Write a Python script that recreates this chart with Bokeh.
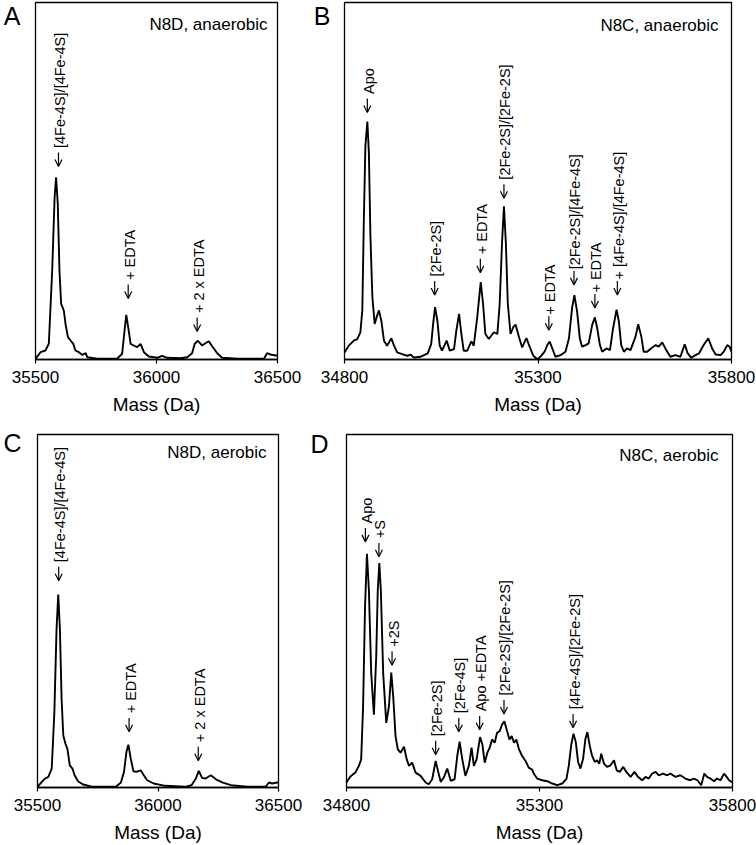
import math
from bokeh.plotting import figure
from bokeh.models import (Range1d, FixedTicker, Label, ColumnDataSource, LinearAxis,
                          Arrow, OpenHead)
from bokeh.layouts import column, row
from bokeh.embed import file_html
from bokeh.resources import INLINE
from bokeh.core.properties import value

FONT = "Liberation Sans"

# ---------------- Panel A : N8D, anaerobic ----------------
a_mass = [35500, 35521, 35541, 35555, 35569, 35579, 35585, 35592, 35599, 35606,
          35617, 35624, 35634, 35645, 35656, 35665, 35679, 35693, 35707, 35714,
          35755, 35837, 35858, 35868, 35875, 35883, 35893, 35906, 35920, 35934,
          35948, 35968, 36003, 36023, 36044, 36099, 36127, 36147, 36158, 36171,
          36189, 36202, 36216, 36230, 36251, 36271, 36333, 36444, 36457, 36471,
          36492, 36500]
a_int = [0.7, 7.3, 9, 15.7, 89, 162.3, 182.3, 155.7, 89, 55.7,
         49, 35.7, 22.3, 19, 15.7, 9, 7.3, 4.7, 6.3, 2.3,
         0.7, 0.7, 5.7, 29, 44.7, 32.3, 15.7, 14, 12.3, 15.7,
         7.3, 3, 1.7, 3.7, 1.7, 1.3, 2.3, 6.3, 15.7, 18.7,
         14, 16.3, 18.3, 13.3, 6.3, 1.7, 0.7, 0.7, 6.3, 5,
         4, 4]
a_ann_mass = [35595, 35883, 36168]
a_ann_y = [193, 61, 28]
a_ann_text = ["← [4Fe-4S]/[4Fe-4S]", "← + EDTA", "← + 2 x EDTA"]

# ---------------- Panel B : N8C, anaerobic ----------------
b_mass = [34800, 34811, 34824, 34833, 34841, 34846, 34850, 34854, 34859, 34863,
          34867, 34872, 34878, 34883, 34889, 34895, 34902, 34910, 34921, 34928,
          34936, 34949, 34962, 34971, 34979, 34996, 35015, 35024, 35029, 35034,
          35040, 35046, 35052, 35064, 35072, 35083, 35089, 35096, 35102, 35108,
          35117, 35128, 35134, 35143, 35152, 35158, 35164, 35173, 35186, 35195,
          35201, 35207, 35212, 35217, 35222, 35229, 35236, 35242, 35251, 35259,
          35270, 35279, 35288, 35298, 35306, 35317, 35324, 35330, 35337, 35345,
          35358, 35371, 35380, 35388, 35394, 35401, 35408, 35414, 35423, 35431,
          35440, 35447, 35453, 35460, 35466, 35477, 35486, 35494, 35503, 35509,
          35515, 35522, 35530, 35539, 35552, 35559, 35567, 35573, 35582, 35592,
          35604, 35612, 35621, 35629, 35642, 35655, 35668, 35679, 35687, 35696,
          35707, 35716, 35728, 35740, 35750, 35759, 35772, 35780, 35789, 35795,
          35800]
b_int = [7, 13.7, 18.7, 20.3, 27, 48.7, 138.7, 212, 236, 205,
         122, 62, 35.3, 42, 48.7, 38.7, 18.7, 13.7, 21, 13.7,
         7, 5.3, 3.7, 4.7, 2, 2.7, 6, 15.3, 35.3, 52,
         38.7, 13.7, 8.7, 18.7, 8.7, 10.3, 28.7, 45.3, 25.3, 8.7,
         8.7, 18, 13.7, 42, 76.7, 55.3, 25.3, 20.3, 27, 25.3,
         55.3, 115.3, 152, 115.3, 55.3, 25.3, 32, 34.7, 22, 12,
         21.3, 12, 3.7, 0.3, 2.7, 7.7, 14.3, 17.7, 11, 2.7,
         4.3, 7.7, 21, 51, 63.7, 47.7, 21, 12.7, 14.3, 16,
         34.3, 41.7, 31, 14.3, 7.7, 11, 9.3, 31, 49.3, 37.7,
         14.3, 7.7, 11, 9.3, 22.7, 35, 22.7, 7.7, 7.7, 11,
         14.3, 12.7, 17, 11, 2.7, 4.3, 2.7, 15, 6, 1.7,
         4.3, 6, 14.3, 21, 11, 5, 4.3, 7.7, 14.3, 12.7,
         7.7]
b_ann_mass = [34859, 35033, 35151, 35212, 35328, 35393, 35447, 35505]
b_ann_y = [245, 64, 86, 160, 29, 74, 51, 64]
b_ann_text = ["← Apo", "← [2Fe-2S]", "← + EDTA", "← [2Fe-2S]/[2Fe-2S]",
              "←+ EDTA", "←[2Fe-2S]/[4Fe-4S]", "←+ EDTA", "←+ [4Fe-4S]/[4Fe-4S]"]

# ---------------- Panel C : N8D, aerobic ----------------
c_mass = [35500, 35518, 35531, 35545, 35559, 35570, 35579, 35586, 35593, 35600,
          35607, 35616, 35624, 35634, 35645, 35654, 35668, 35689, 35730, 35825,
          35846, 35859, 35869, 35877, 35887, 35898, 35910, 35928, 35941, 35955,
          35982, 36030, 36112, 36139, 36157, 36169, 36183, 36197, 36219, 36242,
          36269, 36303, 36372, 36447, 36460, 36474, 36494, 36500]
c_int = [0.7, 5.7, 9, 10.7, 19, 75.7, 159, 194, 159, 89,
         52.3, 44, 39, 22.3, 19, 12.3, 6.3, 3, 0.7, 0.7,
         5, 15.7, 35.7, 43, 29, 16.3, 15.7, 17.3, 12.3, 7.3,
         4, 1.7, 0.7, 2.3, 9, 16.7, 9.7, 9, 12.3, 8,
         5, 2.3, 0.7, 0.7, 5, 4, 5, 5]
c_ann_mass = [35588, 35880, 36167]
c_ann_y = [208, 56, 27]
c_ann_text = ["← [4Fe-4S]/[4Fe-4S]", "← + EDTA", "← + 2 x EDTA"]

# ---------------- Panel D : N8C, aerobic ----------------
d_mass = [34800, 34810, 34823, 34832, 34838, 34843, 34848, 34853, 34858, 34864,
          34871, 34877, 34881, 34885, 34889, 34895, 34903, 34910, 34916, 34921,
          34927, 34933, 34940, 34949, 34956, 34962, 34970, 34979, 34992, 35005,
          35013, 35022, 35031, 35038, 35044, 35052, 35061, 35070, 35080, 35087,
          35093, 35100, 35108, 35117, 35124, 35130, 35137, 35146, 35152, 35158,
          35165, 35171, 35177, 35184, 35190, 35197, 35203, 35209, 35216, 35222,
          35228, 35234, 35240, 35247, 35255, 35264, 35272, 35281,
          35285, 35294, 35307, 35320, 35333, 35346, 35359, 35370, 35376, 35382,
          35388, 35394, 35400, 35406, 35413, 35419, 35424, 35430, 35436, 35443,
          35449, 35455, 35460, 35467, 35475, 35484, 35493, 35500, 35508, 35517,
          35525, 35536, 35546, 35555, 35566, 35575, 35583, 35592, 35601, 35609,
          35620, 35631, 35639, 35652, 35665, 35678, 35690, 35700, 35709, 35719,
          35727, 35734, 35743, 35752, 35760, 35769, 35778, 35785, 35791, 35797,
          35800]
d_int = [5, 11, 15, 21.7, 28.3, 81.7, 181.7, 235, 198.3, 115,
         73.3, 131.7, 198.3, 225.7, 198.3, 115, 65, 81.7, 115.7, 91.7,
         51.7, 38.3, 35, 41, 28.3, 21.7, 25, 15, 11.7, 5,
         3.3, 8.3, 26.7, 15, 5.7, 10, 19, 6.7, 8.3, 31.7,
         46, 28.3, 11.7, 21.7, 40, 21.7, 28.3, 50.7, 43.3, 25,
         35, 40, 48.3, 45, 55, 56.7, 63.3, 66.7, 56.7, 48.3,
         51.7, 45, 48.3, 38.3, 31.7, 26.7, 20, 18,
         14, 9, 7.3, 6.3, 4, 2.3, 4, 9, 22.3, 42.3,
         54, 45.7, 25.7, 19, 29, 49, 55.7, 42.3, 32.3, 25.7,
         27.3, 24, 34, 24, 20.7, 22.3, 27.3, 17.3, 15.7, 20.7,
         15.7, 10.7, 15.7, 10.7, 7.3, 10.7, 9, 14, 15.7, 12.3,
         14, 12.3, 14, 10.7, 12.3, 9, 7.3, 9, 7.3, 2.3,
         14, 10.7, 9, 6.3, 9, 7.3, 14, 10.7, 7.3, 5.7,
         5.7]
d_ann_mass = [34849, 34884, 34918, 35031, 35091, 35145, 35208, 35387]
d_ann_y = [247, 232, 123, 33, 56, 58, 74, 60]
d_ann_text = ["← Apo", "← +S", "← +2S", "← [2Fe-2S]", "← [2Fe-4S]",
              "← Apo +EDTA", "← [2Fe-2S]/[2Fe-2S]", "← [4Fe-4S]/[2Fe-2S]"]

ticks_ac = [35500, 36000, 36500]
ticks_bd = [34800, 35300, 35800]

ARROW_LEN = 14       # px, drawn length of the annotation arrows
ANN_SIZE = 14.5      # px


def panel(width, height, mb, xr, ticks, ymax, mass, inten, ann_m, ann_y, ann_t,
          title, title_pad, title_base, letter, letter_standoff, letter_tick):
    ml, mr, mt, mbot = mb
    fw = width - ml - mr
    fh = height - mt - mbot
    p = figure(width=width, height=height, title=None,
               x_range=Range1d(*xr), y_range=Range1d(0, ymax),
               output_backend="svg", toolbar_location=None,
               min_border_left=ml, min_border_right=mr,
               min_border_top=mt, min_border_bottom=mbot)
    p.background_fill_color = "white"
    p.border_fill_color = "white"
    p.xgrid.visible = False
    p.ygrid.visible = False
    p.yaxis.visible = False
    p.outline_line_color = "black"
    p.outline_line_width = 1.3
    p.outline_line_alpha = 1.0

    ax = p.xaxis[0]
    ax.ticker = FixedTicker(ticks=ticks)
    ax.minor_tick_line_color = None
    ax.major_tick_in = 0
    ax.major_tick_out = 4
    ax.major_tick_line_color = "black"
    ax.major_tick_line_width = 1.2
    ax.axis_line_color = "black"
    ax.axis_line_width = 1.3
    ax.major_label_standoff = 7
    ax.major_label_text_font = FONT
    ax.major_label_text_font_size = "17px"
    ax.major_label_text_color = "black"
    ax.axis_label = "Mass (Da)"
    ax.axis_label_standoff = 8
    ax.axis_label_text_font = FONT
    ax.axis_label_text_font_size = "19px"
    ax.axis_label_text_font_style = "normal"
    ax.axis_label_text_color = "black"

    # panel letter, drawn as the only tick label of an extra left axis
    lax = LinearAxis(ticker=FixedTicker(ticks=[letter_tick]),
                     major_label_overrides={letter_tick: letter},
                     axis_line_color=None, major_tick_line_color=None,
                     minor_tick_line_color=None, major_tick_in=0,
                     major_tick_out=0, major_label_standoff=letter_standoff,
                     major_label_text_font=FONT,
                     major_label_text_font_size="25px",
                     major_label_text_color="black")
    p.add_layout(lax, "left")

    p.line(mass, inten, line_color="black", line_width=1.9)

    # annotations: a downward arrow ending at (x, y) and rotated text above it
    per_px = ymax / fh
    labels, offs, y0 = [], [], []
    for t, yy in zip(ann_t, ann_y):
        rest = t[1:]
        gap = 4.5 if rest.startswith(" ") else 1.5
        offs.append(-(ARROW_LEN + gap))
        labels.append(rest.strip())
        y0.append(yy + ARROW_LEN * per_px)
    src = ColumnDataSource(dict(x=ann_m, y=ann_y, y0=y0, t=labels, off=offs))
    p.add_layout(Arrow(end=OpenHead(size=7, line_width=1.2, line_color="black"),
                       x_start="x", y_start="y0", x_end="x", y_end="y",
                       line_width=1.2, line_color="black", source=src))
    p.text(x="x", y="y", text="t", source=src, angle=math.pi / 2,
           text_align="left", text_baseline="middle", text_color="black",
           text_font=value(FONT), text_font_size=f"{ANN_SIZE}px",
           x_offset=1.5, y_offset="off")

    p.add_layout(Label(x=fw - title_pad, y=fh - title_base, x_units="screen",
                       y_units="screen", text=title, text_align="right",
                       text_baseline="alphabetic", text_font=FONT,
                       text_font_size="17px", text_color="black"))
    return p


pA = panel(302, 428, (35, 25, 2, 69), (35500, 36500), ticks_ac, 357,
           a_mass, a_int, a_ann_mass, a_ann_y, a_ann_text,
           "N8D, anaerobic", 10, 22, "A", 15, 344)
pB = panel(454, 428, (42, 25, 2, 69), (34800, 35800), ticks_bd, 354,
           b_mass, b_int, b_ann_mass, b_ann_y, b_ann_text,
           "N8C, anaerobic", 13, 23, "B", 14, 341)
pC = panel(302, 417, (34, 24, 6, 56), (35500, 36500), ticks_ac, 355,
           c_mass, c_int, c_ann_mass, c_ann_y, c_ann_text,
           "N8D, aerobic", 15, 20, "C", 16, 346)
pD = panel(454, 417, (44, 24, 6, 56), (34800, 35800), ticks_bd, 355,
           d_mass, d_int, d_ann_mass, d_ann_y, d_ann_text,
           "N8C, aerobic", 14, 23, "D", 18, 345)

layout = column(row(pA, pB), row(pC, pD))

open("out.html", "w").write(file_html(layout, INLINE))
